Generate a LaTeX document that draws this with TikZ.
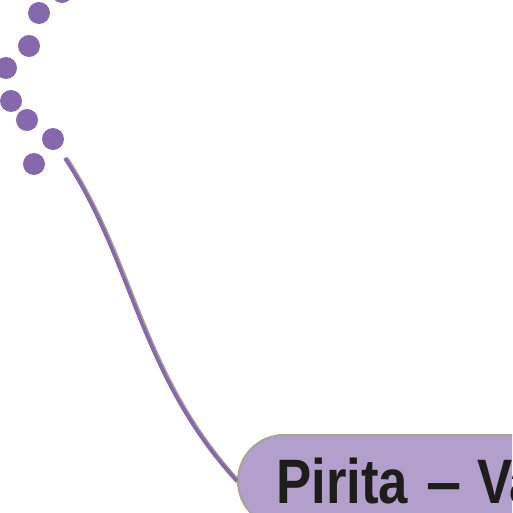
\documentclass[tikz,border=0pt]{standalone}
\usepackage{fontspec}
\setmainfont{Liberation Sans}[FakeStretch=0.84]
\definecolor{dotc}{HTML}{8669AC}
\definecolor{boxfill}{HTML}{B29FCC}
\definecolor{boxedge}{HTML}{A9A396}
\definecolor{txt}{HTML}{1D1D1B}
\tikzset{
  dotnode/.style={circle,fill=dotc,draw=none,minimum size=22pt,inner sep=0pt},
  pill/.style={draw=boxedge,line width=2pt,fill=boxfill,rounded corners=46pt,
    minimum width=400pt,minimum height=92pt,inner sep=0pt,anchor=north west},
  labeltext/.style={text=txt,inner sep=0pt,anchor=base west,
    font=\fontsize{62.8}{70}\selectfont\bfseries},
  linkback/.style={draw=boxedge,line width=5pt},
  linkfront/.style={draw=dotc,line width=3.5pt}
}
\begin{document}
\begin{tikzpicture}[x=1pt,y=-1pt]
\useasboundingbox (0,0) rectangle (512,513);
\clip (0,0) rectangle (512,513);
\node[dotnode] (d0) at (62,-8) {};
\node[dotnode] (d1) at (39,13) {};
\node[dotnode] (d2) at (29,46) {};
\node[dotnode] (d3) at (6,68) {};
\node[dotnode] (d4) at (11,101) {};
\node[dotnode] (d5) at (27,120) {};
\node[dotnode] (d6) at (53,139) {};
\node[dotnode] (d7) at (34,164) {};
\node[pill] (box) at (237,434) {};
\node[labeltext] (lbl) at (276,503) {Pirita\hspace{18pt}\scalebox{1.2}[1]{–}\hspace{16pt}Va};
\coordinate (s) at (65,158);
\coordinate (sb) at (66,158.5);
\path[linkback] (sb) .. controls (135,263.5) and (140,374.5) .. ([xshift=1pt,yshift=-0.5pt]box.west);
\path[linkfront] (s) .. controls (134,263) and (139,374) .. (box.west);
\end{tikzpicture}
\end{document}
